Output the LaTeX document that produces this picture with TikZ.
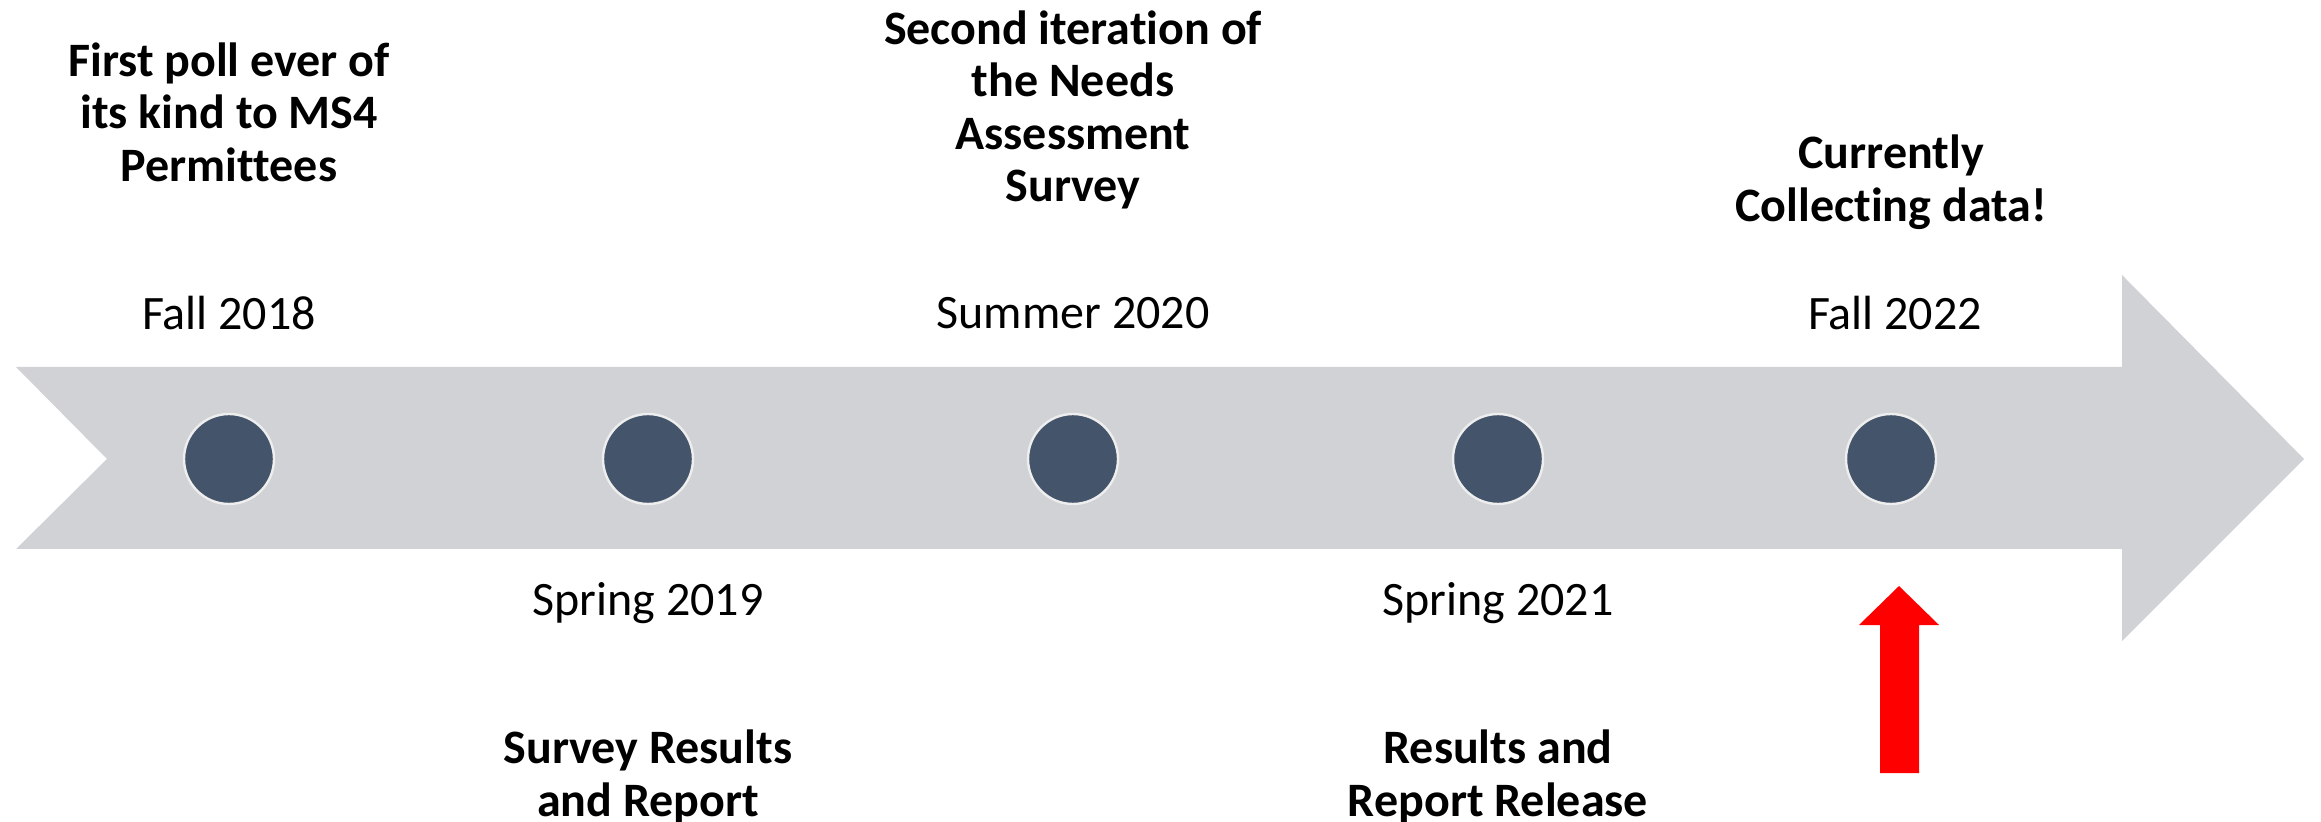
\documentclass[tikz,border=0pt]{standalone}
\usepackage{fontspec}
\setmainfont{Carlito}[Ligatures=NoCommon]
\definecolor{band}{HTML}{D0D2D6}
\definecolor{dot}{HTML}{44546A}
\definecolor{dotline}{HTML}{EEEEEE}
\definecolor{hot}{HTML}{FF0000}
\begin{document}
\begin{tikzpicture}[x=0.5pt,y=-0.5pt,
  dotnode/.style={circle,fill=dot,draw=dotline,line width=1.2pt,minimum size=45pt,inner sep=0pt},
  datelabel/.style={font=\fontsize{24}{26.25}\selectfont,inner sep=0pt,align=center},
  eventlabel/.style={font=\fontsize{24}{26.25}\selectfont\bfseries,inner sep=0pt,align=center}]
\useasboundingbox (0,0) rectangle (2321,822);
% big arrow band
\fill[band] (16,367) -- (2122,367) -- (2122,275) -- (2304,459) -- (2122,641) -- (2122,549) -- (16,549) -- (107,459) -- cycle;
% dots
\node[dotnode] (d1) at (229,459) {};
\node[dotnode] (d2) at (648,459) {};
\node[dotnode] (d3) at (1073,459) {};
\node[dotnode] (d4) at (1498,459) {};
\node[dotnode] (d5) at (1891,459) {};
% dates
\node[datelabel] (t1) at (229,313) {Fall 2018};
\node[datelabel] (t2) at (648,603) {Spring 2019};
\node[datelabel] (t3) at (1073,313) {Summer 2020};
\node[datelabel] (t4) at (1498,603) {Spring 2021};
\node[datelabel] (t5) at (1895,313) {Fall 2022};
% events
\node[eventlabel] (e1) at (229,112) {First poll ever of\\its kind to MS4\\Permittees};
\node[eventlabel] (e2) at (648,777) {Survey Results\\and Report};
\node[eventlabel] (e3) at (1073,110) {Second iteration of\\the Needs\\Assessment\\Survey};
\node[eventlabel] (e4) at (1498,777) {Results and\\Report Release};
\node[eventlabel] (e5) at (1891,182) {Currently\\Collecting data!};
% red pointer arrow
\coordinate (rtip) at (1899,586);
\fill[hot] (rtip) -- (1939,625) -- (1919,625) -- (1919,773) -- (1880,773) -- (1880,625) -- (1859,625) -- cycle;
\end{tikzpicture}
\end{document}
